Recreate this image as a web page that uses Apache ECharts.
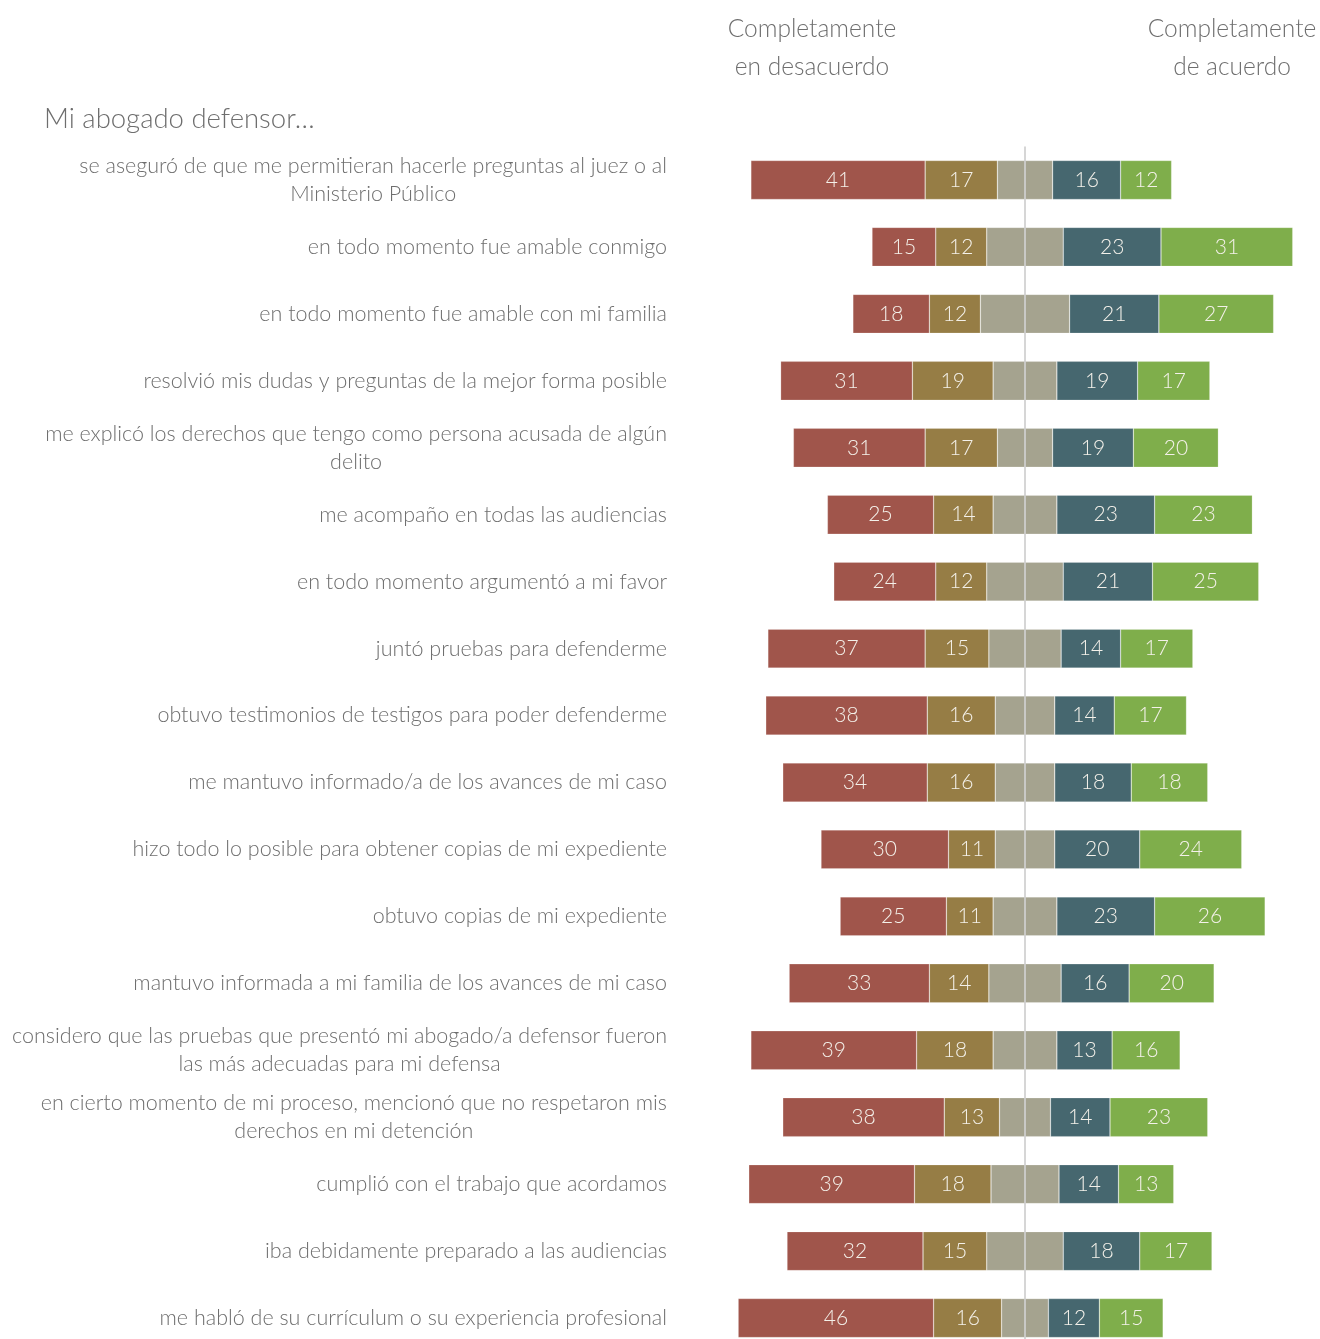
<!DOCTYPE html>
<html lang="es">
<head>
    <meta charset="UTF-8">
    <title>Mi abogado defensor</title>
    <script src="https://cdn.jsdelivr.net/npm/echarts@6/dist/echarts.min.js"></script>
    <style type="text/css">
        html, body { margin: 0; padding: 0; background: #fff; overflow: hidden; }
        #chart { width: 1320px; height: 1370px; }
    </style>
</head>
<body>
<div id="chart"></div>
<script type="text/javascript">
    // preguntas (de arriba a abajo)
    var categories = [
        "se aseguró de que me permitieran hacerle preguntas al juez o al\nMinisterio Público",
        "en todo momento fue amable conmigo",
        "en todo momento fue amable con mi familia",
        "resolvió mis dudas y preguntas de la mejor forma posible",
        "me explicó los derechos que tengo como persona acusada de algún\ndelito",
        "me acompaño en todas las audiencias",
        "en todo momento argumentó a mi favor",
        "juntó pruebas para defenderme",
        "obtuvo testimonios de testigos para poder defenderme",
        "me mantuvo informado/a de los avances de mi caso",
        "hizo todo lo posible para obtener copias de mi expediente",
        "obtuvo copias de mi expediente",
        "mantuvo informada a mi familia de los avances de mi caso",
        "considero que las pruebas que presentó mi abogado/a defensor fueron\nlas más adecuadas para mi defensa",
        "en cierto momento de mi proceso, mencionó que no respetaron mis\nderechos en mi detención",
        "cumplió con el trabajo que acordamos",
        "iba debidamente preparado a las audiencias",
        "me habló de su currículum o su experiencia profesional"
    ];

    var totalDesacuerdo = [41, 15, 18, 31, 31, 25, 24, 37, 38, 34, 30, 25, 33, 39, 38, 39, 32, 46];
    var desacuerdo      = [17, 12, 12, 19, 17, 14, 12, 15, 16, 16, 11, 11, 14, 18, 13, 18, 15, 16];
    var neutral         = [13, 18, 21, 15, 13, 15, 18, 17, 14, 14, 14, 15, 17, 15, 12, 16, 18, 11];
    var acuerdo         = [16, 23, 21, 19, 19, 23, 21, 14, 14, 18, 20, 23, 16, 13, 14, 14, 18, 12];
    var totalAcuerdo    = [12, 31, 27, 17, 20, 23, 25, 17, 17, 18, 24, 26, 20, 16, 23, 13, 17, 15];

    var FONT = 'Lato';
    var txtColor = '#6e6e6e';

    var neg = function (arr) { return arr.map(function (v) { return -v; }); };
    var half = function (arr, s) { return arr.map(function (v) { return s * v / 2; }); };

    var barLabel = {
        show: true,
        position: 'inside',
        color: '#f4f1ea',
        fontFamily: FONT,
        fontSize: 21,
        fontWeight: 300,
        formatter: function (p) { return Math.abs(p.value); }
    };

    function barSeries(name, data, color, label) {
        return {
            name: name,
            type: 'bar',
            stack: 'total',
            barWidth: 39,
            data: data,
            itemStyle: { color: color, borderColor: 'rgba(255,255,255,0.35)', borderWidth: 0.6 },
            label: label ? barLabel : { show: false },
            emphasis: { disabled: true },
            silent: true,
            animation: false
        };
    }

    var chart = echarts.init(document.getElementById('chart'));

    var series = [
        barSeries('neutral_izq', half(neutral, -1), '#a5a38f', false),
        barSeries('desacuerdo', neg(desacuerdo), '#967d45', true),
        barSeries('total_desacuerdo', neg(totalDesacuerdo), '#a0554b', true),
        barSeries('neutral_der', half(neutral, 1), '#a5a38f', false),
        barSeries('acuerdo', acuerdo, '#46676f', true),
        barSeries('total_acuerdo', totalAcuerdo, '#7fae4b', true)
    ];
    // linea central
    series[0].markLine = {
        silent: true,
        symbol: 'none',
        label: { show: false },
        lineStyle: { color: '#c8c8c8', width: 1.5, type: 'solid' },
        data: [{ xAxis: 0 }],
        animation: false
    };
    series[0].z = 3;

    var option = {
        backgroundColor: '#fff',
        animation: false,
        title: [
            {
                text: 'Completamente\nen desacuerdo',
                left: 807, top: 5, textAlign: 'center',
                textStyle: { fontFamily: FONT, fontWeight: 300, fontSize: 24.5, color: txtColor, lineHeight: 38, align: 'center' }
            },
            {
                text: 'Completamente\nde acuerdo',
                left: 1227, top: 5, textAlign: 'center',
                textStyle: { fontFamily: FONT, fontWeight: 300, fontSize: 24.5, color: txtColor, lineHeight: 38, align: 'center' }
            },
            {
                text: 'Mi abogado defensor…',
                left: 39, top: 100,
                textStyle: { fontFamily: FONT, fontWeight: 300, fontSize: 27.5, color: txtColor }
            }
        ],
        grid: { left: 736, top: 146.5, width: 578, height: 1205, containLabel: false },
        xAxis: {
            type: 'value',
            min: -68,
            max: 68,
            show: false
        },
        yAxis: {
            type: 'category',
            data: categories,
            inverse: true,
            axisLine: { show: false },
            axisTick: { show: false },
            axisLabel: {
                margin: 69,
                color: txtColor,
                fontFamily: FONT,
                fontSize: 21.5,
                fontWeight: 300,
                lineHeight: 28,
                formatter: function (v) {
                    return v.split('\n').map(function (l) { return '{c|' + l + '}'; }).join('\n');
                },
                rich: {
                    c: { align: 'center', color: txtColor, fontFamily: FONT, fontSize: 21.5, fontWeight: 300, lineHeight: 28 }
                }
            }
        },
        series: series
    };

    chart.setOption(option);
</script>
</body>
</html>
